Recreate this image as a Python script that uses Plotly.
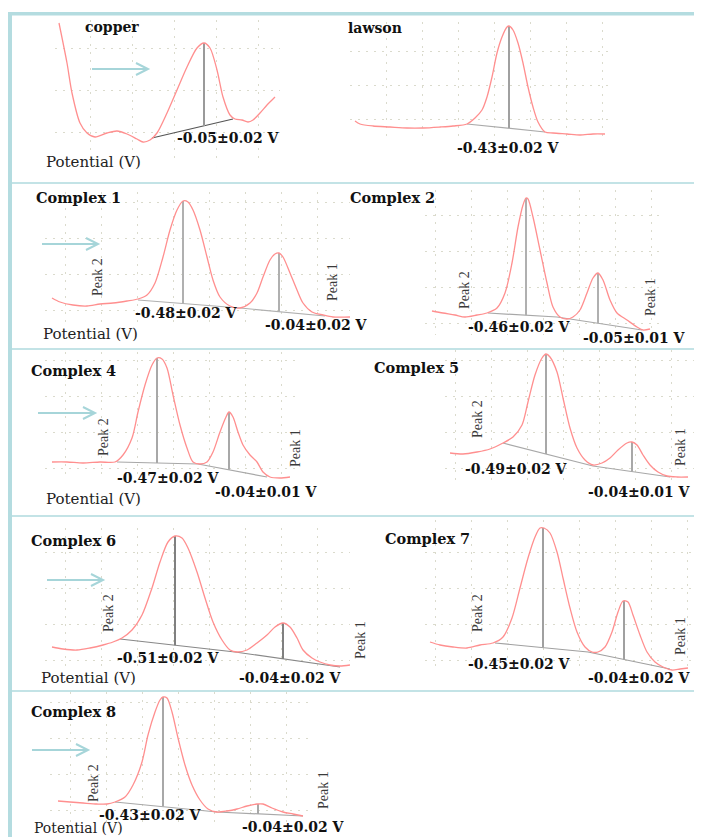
import plotly.graph_objects as go

# The page body has an 8px margin, so the figure is drawn 8px in from the window corner.
PAGE_W, PAGE_H = 702, 837
OFF = 8
W, H = PAGE_W - OFF, PAGE_H - OFF

# ---------------- data (arbitrary potential / current units) ----------------
copper_x = [4, 12, 17, 25, 32, 40, 52, 62, 72, 82, 88, 95, 102, 112, 122, 132, 142, 149, 155, 162, 168, 175, 180, 187, 193, 198, 205, 212, 217, 220]
copper_y = [137, 97, 67, 37, 27, 23, 27, 29, 26, 21, 18, 20, 27, 47, 70, 93, 112, 117, 112, 90, 63, 45, 41, 40, 38, 40, 47, 55, 60, 63]
copper_peak_x = [149]
copper_peak_top = [117]
copper_peak_base = [34]
copper_base_x = [97, 178]
copper_base_y = [22, 41]

lawson_x = [5, 10, 23, 40, 57, 73, 90, 103, 117, 125, 132, 137, 142, 147, 152, 157, 159, 163, 168, 173, 178, 183, 188, 195, 203, 217, 230, 243, 255]
lawson_y = [19, 16, 14, 13, 12, 12, 13, 14, 16, 22, 30, 43, 63, 87, 103, 113, 114, 110, 97, 77, 53, 33, 18, 8, 7, 6, 5, 6, 6]
lawson_peak_x = [159]
lawson_peak_top = [114]
lawson_peak_base = [12]
lawson_base_x = [117, 195]
lawson_base_y = [16, 8]

c1_x = [7, 15, 28, 42, 55, 68, 82, 93, 102, 110, 118, 125, 132, 138, 143, 148, 155, 162, 168, 175, 185, 195, 205, 212, 218, 225, 230, 234, 238, 245, 252, 258, 267, 278, 288, 305]
c1_y = [24, 20, 17, 16, 18, 19, 21, 23, 27, 39, 65, 92, 112, 121, 120, 112, 92, 65, 42, 25, 16, 14, 19, 29, 45, 62, 68, 69, 65, 49, 32, 19, 10, 7, 5, 5]
c1_peak_x = [138, 234]
c1_peak_top = [121, 69]
c1_peak_base = [18.5, 10.3]
c1_base_x = [93, 195, 280]
c1_base_y = [22, 14, 6]

c2_x = [7, 18, 30, 40, 52, 62, 72, 80, 87, 93, 98, 101, 103, 108, 115, 122, 128, 135, 142, 148, 155, 162, 168, 173, 178, 185, 192, 202, 212, 218, 225]
c2_y = [24, 22, 20, 18, 20, 22, 27, 42, 72, 108, 130, 137, 136, 118, 85, 52, 28, 18, 16, 18, 25, 42, 57, 62, 55, 35, 22, 15, 8, 5, 6]
c2_peak_x = [101, 173]
c2_peak_top = [137, 62]
c2_peak_base = [19.8, 11.7]
c2_base_x = [63, 132, 217]
c2_base_y = [22, 18, 5]

c4_x = [7, 22, 38, 55, 70, 78, 87, 93, 100, 107, 112, 117, 122, 128, 135, 142, 148, 155, 162, 168, 175, 181, 184, 188, 193, 198, 205, 212, 218, 225, 235, 245]
c4_y = [18, 18, 17, 18, 18, 25, 42, 68, 95, 115, 122, 121, 112, 85, 55, 32, 18, 16, 18, 28, 48, 63, 68, 63, 48, 35, 25, 18, 8, 3, 2, 3]
c4_peak_x = [112, 184]
c4_peak_top = [122, 68]
c4_peak_base = [17, 10.2]
c4_base_x = [72, 153, 222]
c4_base_y = [18, 16, 3]

c5_x = [5, 18, 32, 45, 58, 68, 77, 83, 90, 97, 101, 105, 112, 118, 125, 132, 140, 148, 157, 165, 173, 182, 187, 192, 198, 205, 213, 222, 232, 243]
c5_y = [27, 26, 28, 31, 37, 43, 55, 78, 105, 122, 126, 123, 108, 82, 52, 32, 20, 15, 17, 22, 30, 37, 38, 35, 25, 15, 8, 4, 3, 3]
c5_peak_x = [101, 187]
c5_peak_top = [126, 38]
c5_peak_base = [26, 8.4]
c5_base_x = [58, 148, 225]
c5_base_y = [37, 14, 3]

c6_x = [7, 18, 32, 45, 58, 68, 77, 87, 97, 107, 115, 123, 130, 137, 143, 152, 160, 168, 177, 185, 192, 202, 212, 222, 230, 238, 245, 252, 258, 267, 275, 285, 295, 305]
c6_y = [25, 23, 22, 24, 27, 30, 34, 42, 57, 84, 110, 130, 136, 134, 124, 100, 74, 50, 32, 22, 20, 22, 29, 37, 45, 49, 45, 34, 22, 14, 10, 7, 6, 7]
c6_peak_x = [130, 238]
c6_peak_top = [136, 49]
c6_peak_base = [26.8, 13.1]
c6_base_x = [75, 190, 295]
c6_base_y = [33, 20, 5]

c7_x = [5, 15, 28, 42, 55, 68, 78, 87, 95, 103, 110, 115, 119, 125, 132, 138, 145, 152, 160, 167, 173, 180, 187, 193, 198, 203, 208, 215, 222, 230, 238, 247, 255, 263]
c7_y = [30, 27, 25, 24, 27, 29, 35, 54, 84, 114, 135, 144, 144, 139, 120, 94, 64, 40, 25, 20, 20, 25, 40, 60, 71, 70, 57, 37, 20, 10, 5, 2, 3, 4]
c7_peak_x = [118, 199]
c7_peak_top = [144, 71]
c7_peak_base = [24.4, 12.5]
c7_base_x = [70, 163, 245]
c7_base_y = [29, 20, 3]

c8_x = [8, 20, 33, 47, 57, 65, 75, 83, 92, 98, 105, 110, 113, 117, 122, 128, 135, 142, 150, 158, 167, 177, 187, 197, 207, 213, 222, 233, 243, 253]
c8_y = [21, 20, 19, 18, 18, 20, 25, 37, 60, 87, 110, 122, 125, 124, 110, 84, 57, 37, 22, 13, 10, 11, 13, 16, 18, 18, 14, 10, 8, 6]
c8_peak_x = [113, 208]
c8_peak_top = [125, 18]
c8_peak_base = [15.6, 8.1]
c8_base_x = [65, 167, 253]
c8_base_y = [20, 10, 6]

titles = ["copper", "lawson", "Complex 1", "Complex 2", "Complex 4", "Complex 5", "Complex 6", "Complex 7", "Complex 8"]
peak_labels = [
    ["-0.05±0.02 V"], ["-0.43±0.02 V"],
    ["-0.48±0.02 V", "-0.04±0.02 V"], ["-0.46±0.02 V", "-0.05±0.01 V"],
    ["-0.47±0.02 V", "-0.04±0.01 V"], ["-0.49±0.02 V", "-0.04±0.01 V"],
    ["-0.51±0.02 V", "-0.04±0.02 V"], ["-0.45±0.02 V", "-0.04±0.02 V"],
    ["-0.43±0.02 V", "-0.04±0.02 V"],
]
axis_label = "Potential (V)"

# ---------------- layout helpers (window pixels -> paper) ----------------
def X(px):
    return (px - OFF) / W

def Y(py):
    return 1 - (py - OFF) / H

panels = [
    dict(x=copper_x, y=copper_y, px=copper_peak_x, pt=copper_peak_top, pb=copper_peak_base, bx=copper_base_x, by=copper_base_y,
         box=(55, 280, 20, 160), grid=(42, 35, 42, 28), basecol="#555555", peakcol="#9a9a9a"),
    dict(x=lawson_x, y=lawson_y, px=lawson_peak_x, pt=lawson_peak_top, pb=lawson_peak_base, bx=lawson_base_x, by=lawson_base_y,
         box=(350, 610, 22, 140), grid=(36, 0, 34, 21), basecol="#aaaaaa", peakcol="#a0a0a0"),
    dict(x=c1_x, y=c1_y, px=c1_peak_x, pt=c1_peak_top, pb=c1_peak_base, bx=c1_base_x, by=c1_base_y,
         box=(45, 350, 192, 322), grid=(36, 20, 36, 12), basecol="#b0b0b0", peakcol="#b0b0b0"),
    dict(x=c2_x, y=c2_y, px=c2_peak_x, pt=c2_peak_top, pb=c2_peak_base, bx=c2_base_x, by=c2_base_y,
         box=(425, 665, 190, 335), grid=(36, 10, 36, 12), basecol="#a8a8a8", peakcol="#b0b0b0"),
    dict(x=c4_x, y=c4_y, px=c4_peak_x, pt=c4_peak_top, pb=c4_peak_base, bx=c4_base_x, by=c4_base_y,
         box=(45, 300, 352, 480), grid=(36, 20, 36, 12), basecol="#a8a8a8", peakcol="#a8a8a8"),
    dict(x=c5_x, y=c5_y, px=c5_peak_x, pt=c5_peak_top, pb=c5_peak_base, bx=c5_base_x, by=c5_base_y,
         box=(445, 702, 350, 480), grid=(36, 10, 36, 12), basecol="#a8a8a8", peakcol="#a8a8a8"),
    dict(x=c6_x, y=c6_y, px=c6_peak_x, pt=c6_peak_top, pb=c6_peak_base, bx=c6_base_x, by=c6_base_y,
         box=(45, 350, 528, 672), grid=(36, 20, 36, 12), basecol="#888888", peakcol="#808080"),
    dict(x=c7_x, y=c7_y, px=c7_peak_x, pt=c7_peak_top, pb=c7_peak_base, bx=c7_base_x, by=c7_base_y,
         box=(425, 702, 520, 672), grid=(36, 10, 36, 12), basecol="#a0a0a0", peakcol="#a0a0a0"),
    dict(x=c8_x, y=c8_y, px=c8_peak_x, pt=c8_peak_top, pb=c8_peak_base, bx=c8_base_x, by=c8_base_y,
         box=(50, 310, 692, 822), grid=(36, 20, 36, 12), basecol="#a8a8a8", peakcol="#a8a8a8"),
]

CURVE = "#ff8f8f"
fig = go.Figure()
layout_axes = {}

for i, p in enumerate(panels):
    n = i + 1
    xa = "x" if n == 1 else f"x{n}"
    ya = "y" if n == 1 else f"y{n}"
    x0, x1, y0, y1 = p["box"]
    dx, tx, dy, ty = p["grid"]
    common = dict(showticklabels=False, ticks="", zeroline=False, showline=False,
                  showgrid=True, gridcolor="#dadacc", gridwidth=1, griddash="2px,6px", fixedrange=True)
    layout_axes["xaxis" if n == 1 else f"xaxis{n}"] = dict(
        domain=[max(0, X(x0)), min(1, X(x1))], range=[0, x1 - x0], dtick=dx, tick0=tx, anchor=ya, **common)
    layout_axes["yaxis" if n == 1 else f"yaxis{n}"] = dict(
        domain=[max(0, Y(y1)), min(1, Y(y0))], range=[0, y1 - y0], dtick=dy, tick0=ty, anchor=xa, **common)
    fig.add_trace(go.Scatter(x=p["bx"], y=p["by"], mode="lines", xaxis=xa, yaxis=ya,
                             line=dict(color=p["basecol"], width=1.2), hoverinfo="skip"))
    for k in range(len(p["px"])):
        fig.add_trace(go.Scatter(x=[p["px"][k], p["px"][k]], y=[p["pb"][k], p["pt"][k]], mode="lines",
                                 xaxis=xa, yaxis=ya, line=dict(color=p["peakcol"], width=2), hoverinfo="skip"))
    fig.add_trace(go.Scatter(x=p["x"], y=p["y"], mode="lines", xaxis=xa, yaxis=ya,
                             line=dict(color=CURVE, width=1.3, shape="spline", smoothing=0.8), hoverinfo="skip"))

# ---------------- annotations ----------------
SERIF = "DejaVu Serif"
ann = []

def text(cx, cy, s, size=14, bold=True, family=SERIF, color="#111111", angle=0):
    ann.append(dict(x=X(cx), y=Y(cy), xref="paper", yref="paper", text=(f"<b>{s}</b>" if bold else s),
                    showarrow=False, xanchor="center", yanchor="middle", textangle=angle,
                    font=dict(family=family, size=size, color=color)))

title_pos = [(112, 27), (375, 28), (78, 198), (392, 198), (73, 370), (416, 368), (73, 540), (427, 538), (73, 711)]
label_pos = [
    [(228, 138)], [(508, 148)],
    [(187, 313), (316, 325)], [(520, 327), (634, 338)],
    [(168, 478), (266, 492)], [(516, 469), (639, 492)],
    [(168, 658), (290, 678)], [(520, 664), (639, 678)],
    [(150, 815), (293, 827)],
]
peak2_pos = [None, None, (97, 277), (465, 290), (103, 437), (477, 419), (108, 613), (477, 613), (93, 783)]
peak1_pos = [None, None, (333, 282), (650, 297), (295, 448), (680, 447), (360, 640), (680, 636), (323, 790)]
potential_pos = [(93, 162), (90, 334), (93, 499), (88, 678), (78, 828)]

for i, t in enumerate(titles):
    text(*title_pos[i], t, size=14 if i < 2 else 14.5)
    for lab, pos in zip(peak_labels[i], label_pos[i]):
        text(*pos, lab, size=14)
    if peak2_pos[i]:
        text(*peak2_pos[i], "Peak 2", size=14, bold=False, family="Liberation Serif", color="#3a3a3a", angle=-90)
        text(*peak1_pos[i], "Peak 1", size=14, bold=False, family="Liberation Serif", color="#3a3a3a", angle=-90)
for k, pos in enumerate(potential_pos):
    text(*pos, axis_label, size=15 if k < 4 else 14, bold=False, family=SERIF, color="#222222")

# ---------------- frame and arrows ----------------
shapes = []
FRAME = "#b4dce0"
shapes.append(dict(type="rect", xref="paper", yref="paper", x0=X(8), x1=X(12), y0=Y(845), y1=Y(12),
                   fillcolor=FRAME, line=dict(width=0), layer="below"))
shapes.append(dict(type="rect", xref="paper", yref="paper", x0=X(8), x1=X(710), y0=Y(15.5), y1=Y(12),
                   fillcolor=FRAME, line=dict(width=0), layer="below"))
for sy in [183, 349, 516, 691]:
    shapes.append(dict(type="line", xref="paper", yref="paper", x0=X(12), x1=X(710), y0=Y(sy), y1=Y(sy),
                       line=dict(color="#c3e3e6", width=2), layer="below"))

ARROW = "#a6d5d9"
for ax0, ax1, ay in [(92, 148, 69), (42, 98, 244), (38, 95, 413), (47, 103, 580), (32, 88, 750)]:
    shapes.append(dict(type="line", xref="paper", yref="paper", x0=X(ax0), x1=X(ax1), y0=Y(ay), y1=Y(ay),
                       line=dict(color=ARROW, width=2)))
    path = f"M {X(ax1-12)} {Y(ay-6)} L {X(ax1)} {Y(ay)} L {X(ax1-12)} {Y(ay+6)}"
    shapes.append(dict(type="path", xref="paper", yref="paper", path=path, line=dict(color=ARROW, width=2)))

fig.update_layout(
    width=W, height=H, autosize=False,
    margin=dict(l=0, r=0, t=0, b=0),
    paper_bgcolor="white", plot_bgcolor="rgba(0,0,0,0)",
    showlegend=False, annotations=ann, shapes=shapes,
    **layout_axes,
)

fig.write_html("out.html")
